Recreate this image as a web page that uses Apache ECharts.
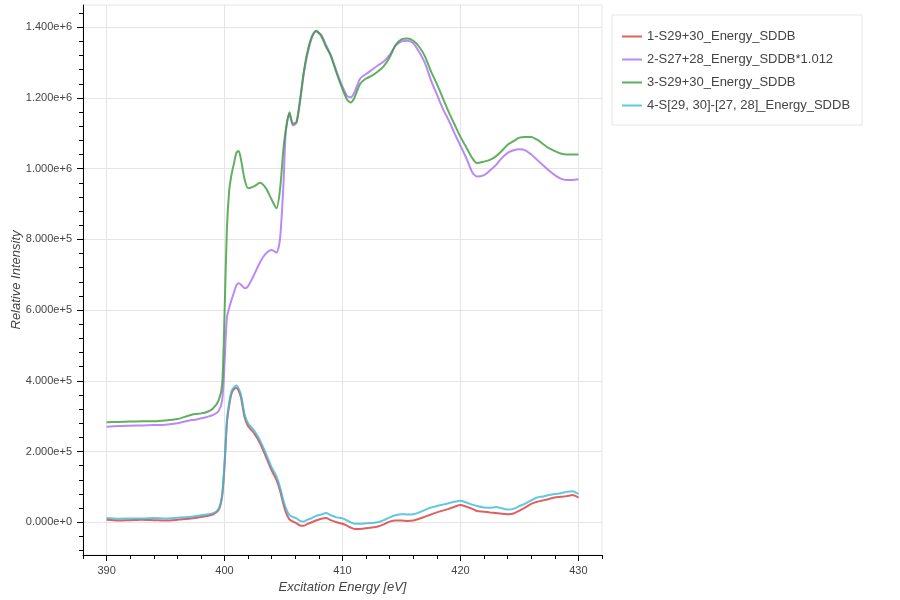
<!DOCTYPE html>
<html>
<head>
<meta charset="utf-8">
<script src="https://cdn.jsdelivr.net/npm/echarts@6/dist/echarts.min.js"></script>
<style>
    html,body{margin:0;padding:0;background:#fff;}
    #broken{width:900px;height:600px;}
</style>
</head>
<body>
<div id="broken"></div>
<script>
    // series names
    var seriesName = [
        '1-S29+30_Energy_SDDB',
        '2-S27+28_Energy_SDDB*1.012',
        '3-S29+30_Energy_SDDB',
        '4-S[29, 30]-[27, 28]_Energy_SDDB'
    ];
    var lineColor = ['rgba(216,56,56,0.8)','rgba(170,106,246,0.8)','rgba(56,156,56,0.8)','rgba(56,186,216,0.8)'];

    // excitation energy [eV]
    var energy = [390,391,392,393,394,395,396,397,397.5,398,398.5,399,399.5,399.8,400,400.2,400.4,400.6,400.8,401,
        401.2,401.4,401.7,402,402.5,403,403.5,404,404.4,404.7,405,405.2,405.5,405.8,406.1,406.4,406.7,407,407.4,407.75,
        408.2,408.6,409,409.5,410,410.4,410.7,411,411.5,412,412.5,413,413.5,414,414.5,415,415.5,416,416.5,417,
        417.5,418,418.5,419,419.5,420,420.5,421,421.4,422,422.5,423,423.5,424,424.5,425,425.5,426,426.5,427,
        427.5,428,428.5,429,429.5,430];

    var s1 = [7000,5000,6000,7000,6000,5000,7000,10000,12000,15000,18000,22000,35000,75000,160000,280000,332000,365000,377000,380000,
        372000,352000,297000,272000,252000,224000,186000,146000,120000,90000,50000,28000,8000,2000,-3000,-9000,-10000,-5000,0,5000,
        10000,12000,6000,0,-4000,-10000,-15000,-19000,-19000,-17000,-15000,-12000,-6000,2000,5000,5000,4000,5000,10000,16000,
        22000,28000,33000,38000,44000,49000,44000,38000,32000,30000,28000,26000,24000,23000,25000,33000,42000,52000,58000,62000,
        66000,70000,72000,74000,77000,70000];

    var s2 = [270000,272000,273000,274000,275000,276000,280000,288000,290000,294000,298000,303000,315000,345000,450000,580000,607000,630000,650000,670000,
        676000,672000,662000,668000,700000,735000,760000,770000,763000,800000,960000,1110000,1155000,1122000,1130000,1190000,1265000,1320000,1370000,1388000,
        1378000,1350000,1322000,1275000,1232000,1205000,1202000,1215000,1255000,1268000,1280000,1292000,1303000,1322000,1348000,1360000,1362000,1355000,1330000,1298000,
        1250000,1210000,1170000,1137000,1100000,1065000,1030000,990000,978000,982000,995000,1010000,1030000,1045000,1052000,1055000,1052000,1040000,1025000,1010000,
        995000,982000,972000,968000,968000,970000];

    var s3 = [283000,284000,285000,286000,286000,288000,292000,302000,306000,308000,312000,321000,345000,390000,590000,830000,940000,985000,1015000,1045000,
        1050000,1025000,970000,945000,950000,960000,945000,912000,888000,940000,1060000,1110000,1160000,1127000,1132000,1194000,1270000,1326000,1374000,1390000,
        1375000,1345000,1320000,1270000,1225000,1195000,1187000,1200000,1240000,1255000,1263000,1275000,1290000,1315000,1350000,1366000,1368000,1362000,1345000,1317000,
        1275000,1240000,1200000,1161000,1125000,1090000,1060000,1030000,1016000,1020000,1025000,1035000,1050000,1068000,1078000,1088000,1090000,1090000,1082000,1070000,
        1058000,1050000,1043000,1040000,1040000,1040000];

    var s4 = [12000,10000,11000,11000,12000,11000,13000,15000,17000,20000,22000,25000,38000,80000,170000,290000,340000,371000,382000,387000,
        378000,360000,305000,280000,260000,232000,195000,155000,130000,100000,60000,40000,20000,15000,11000,4000,2000,7000,12000,18000,
        22000,26000,20000,14000,11000,5000,0,-4000,-4000,-3000,-2000,0,6000,14000,20000,23000,22000,23000,28000,35000,
        42000,46000,50000,54000,58000,61000,56000,50000,46000,42000,41000,43000,40000,36000,38000,46000,53000,62000,70000,73000,
        77000,80000,82000,86000,88000,80000];

    // ticks
    var xTicks = [390,400,410,420,430];
    var yTicks = [0,200000,400000,600000,800000,1000000,1200000,1400000];

    init_chart();

    function pairs(xs, ys){
        var out = [];
        for(var i = 0; i < xs.length; i++){
            out.push([xs[i], ys[i]]);
        }
        return out;
    }

    function steps(from, to, step){
        var out = [];
        for(var v = from; v <= to; v += step){
            out.push(v);
        }
        return out;
    }

    function init_chart(){
        var chart = echarts.init(document.getElementById('broken'));
        var font = "'Liberation Sans', Arial, sans-serif";
        var xMin = 388, xMax = 432;
        var yMin = -92500, yMax = 1463000;
        var allData = [s1, s2, s3, s4];

        var series = [];
        for(var i = 0; i < allData.length; i++){
            series.push({
                name : seriesName[i],
                type : 'line',
                showSymbol : false,
                smooth : 0.25,
                color : lineColor[i],
                lineStyle : { width : 2 },
                data : pairs(energy, allData[i])
            });
        }

        var option = {
            animation : false,
            textStyle : { fontFamily : font },
            grid : {
                left : 83, top : 5, width : 519, height : 550,
                containLabel : false,
                outerBoundsMode : 'none',
                show : true,
                borderColor : '#e5e5e5',
                borderWidth : 1
            },
            legend : {
                orient : 'vertical',
                left : 612,
                top : 15,
                padding : [15, 12, 13, 10],
                itemGap : 10,
                itemWidth : 20,
                itemHeight : 2,
                icon : 'rect',
                backgroundColor : '#fff',
                borderColor : '#e5e5e5',
                borderWidth : 1,
                textStyle : { color : '#444', fontSize : 13, fontFamily : font },
                data : seriesName
            },
            xAxis : [ {
                type : 'value',
                min : xMin, max : xMax,
                name : 'Excitation Energy [eV]',
                nameLocation : 'middle',
                nameGap : 26,
                nameMoveOverlap : false,
                nameTextStyle : { color : '#444', fontSize : 13, fontStyle : 'italic' },
                axisLine : { onZero : false, lineStyle : { color : '#000', width : 1 } },
                axisTick : { customValues : xTicks, length : 6, lineStyle : { color : '#000' } },
                axisLabel : { customValues : xTicks, color : '#444', fontSize : 11, margin : 10 },
                splitLine : { show : true, lineStyle : { color : '#e5e5e5', width : 1 } }
            }, {
                type : 'value',
                min : xMin, max : xMax,
                position : 'bottom',
                axisLine : { show : false, onZero : false },
                axisTick : { customValues : steps(388, 432, 2), length : 4, lineStyle : { color : '#000' } },
                axisLabel : { show : false },
                splitLine : { show : false }
            } ],
            yAxis : [ {
                type : 'value',
                min : yMin, max : yMax,
                name : 'Relative Intensity',
                nameLocation : 'middle',
                nameGap : 60,
                nameMoveOverlap : false,
                nameTextStyle : { color : '#444', fontSize : 13, fontStyle : 'italic' },
                axisLine : { show : true, onZero : false, lineStyle : { color : '#000', width : 1 } },
                axisTick : { show : true, customValues : yTicks, length : 6, lineStyle : { color : '#000' } },
                axisLabel : {
                    customValues : yTicks, color : '#444', fontSize : 11, margin : 11,
                    formatter : function(v){ return v.toExponential(3); }
                },
                splitLine : { show : true, lineStyle : { color : '#e5e5e5', width : 1 } }
            }, {
                type : 'value',
                min : yMin, max : yMax,
                position : 'left',
                axisLine : { show : false, onZero : false },
                axisTick : { show : true, customValues : steps(-80000, 1440000, 40000), length : 4, lineStyle : { color : '#000' } },
                axisLabel : { show : false },
                splitLine : { show : false }
            } ],
            series : series
        };
        chart.setOption(option);
    }
</script>
</body>
</html>
